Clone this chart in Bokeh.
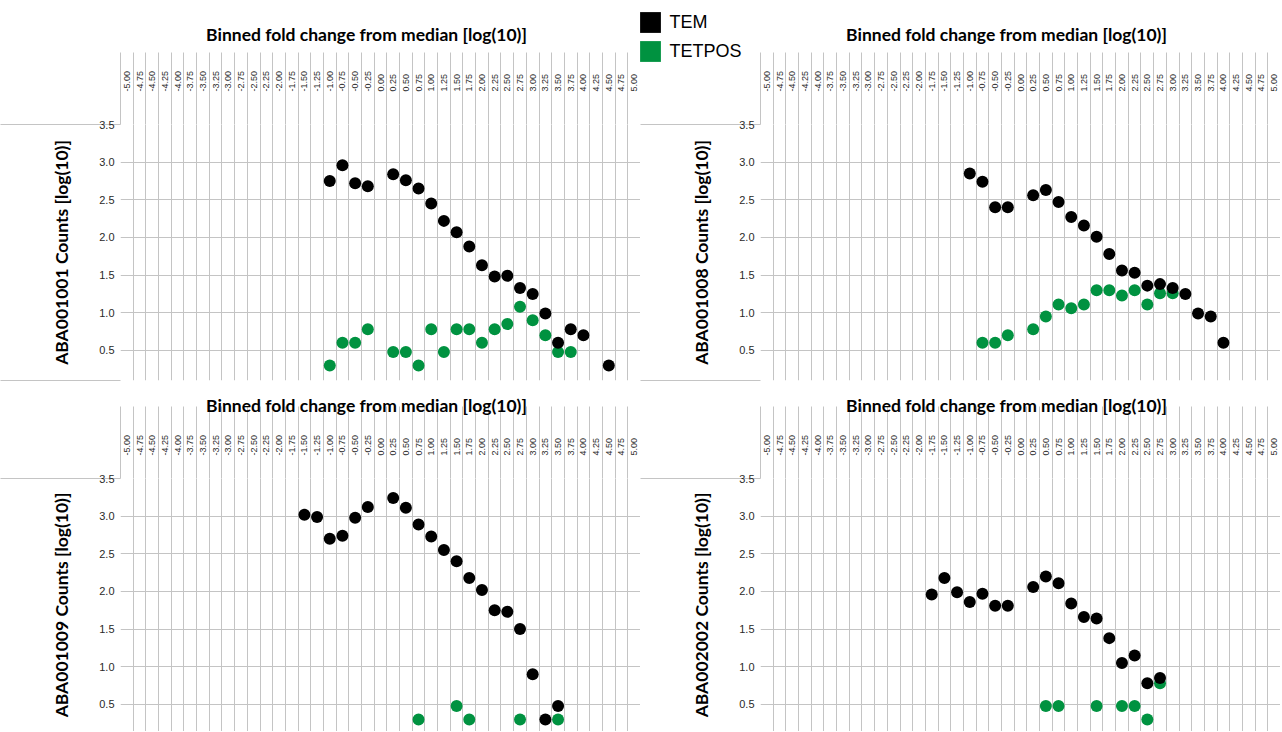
from bokeh.plotting import figure
from bokeh.layouts import row, column
from bokeh.models import (FixedTicker, Range1d, LinearAxis, Legend, LegendItem,
                          NumeralTickFormatter)
from bokeh.embed import file_html
from bokeh.resources import INLINE

# ------------------------------------------------------------------ data
x_labels = ["-5.00", "-4.75", "-4.50", "-4.25", "-4.00", "-3.75", "-3.50", "-3.25",
            "-3.00", "-2.75", "-2.50", "-2.25", "-2.00", "-1.75", "-1.50", "-1.25",
            "-1.00", "-0.75", "-0.50", "-0.25", "0.00", "0.25", "0.50", "0.75",
            "1.00", "1.25", "1.50", "1.75", "2.00", "2.25", "2.50", "2.75",
            "3.00", "3.25", "3.50", "3.75", "4.00", "4.25", "4.50", "4.75", "5.00"]
y_labels = ["0.5", "1.0", "1.5", "2.0", "2.5", "3.0", "3.5"]
series_names = ["TEM", "TETPOS"]
x_title = "Binned fold change from median [log(10)]"
y_title_suffix = " Counts [log(10)]"

# ABA001001
a1_tem_bins = [-1.00, -0.75, -0.50, -0.25, 0.25, 0.50, 0.75, 1.00, 1.25, 1.50, 1.75,
               2.00, 2.25, 2.50, 2.75, 3.00, 3.25, 3.50, 3.75, 4.00, 4.50]
a1_tem_vals = [2.75, 2.96, 2.72, 2.68, 2.84, 2.76, 2.65, 2.45, 2.22, 2.07, 1.88,
               1.63, 1.48, 1.49, 1.33, 1.25, 0.99, 0.60, 0.78, 0.70, 0.30]
a1_tet_bins = [-1.00, -0.75, -0.50, -0.25, 0.25, 0.50, 0.75, 1.00, 1.25, 1.50, 1.75,
               2.00, 2.25, 2.50, 2.75, 3.00, 3.25, 3.50, 3.75]
a1_tet_vals = [0.30, 0.60, 0.60, 0.78, 0.48, 0.48, 0.30, 0.78, 0.48, 0.78, 0.78,
               0.60, 0.78, 0.85, 1.08, 0.90, 0.70, 0.48, 0.48]

# ABA001008
a2_tem_bins = [-1.00, -0.75, -0.50, -0.25, 0.25, 0.50, 0.75, 1.00, 1.25, 1.50, 1.75,
               2.00, 2.25, 2.50, 2.75, 3.00, 3.25, 3.50, 3.75, 4.00]
a2_tem_vals = [2.85, 2.74, 2.40, 2.40, 2.56, 2.63, 2.47, 2.27, 2.16, 2.01, 1.78,
               1.56, 1.53, 1.36, 1.38, 1.33, 1.25, 0.99, 0.95, 0.60]
a2_tet_bins = [-0.75, -0.50, -0.25, 0.25, 0.50, 0.75, 1.00, 1.25, 1.50, 1.75,
               2.00, 2.25, 2.50, 2.75, 3.00]
a2_tet_vals = [0.60, 0.60, 0.70, 0.78, 0.95, 1.11, 1.06, 1.11, 1.30, 1.30,
               1.23, 1.30, 1.11, 1.26, 1.26]

# ABA001009
a3_tem_bins = [-1.50, -1.25, -1.00, -0.75, -0.50, -0.25, 0.25, 0.50, 0.75, 1.00,
               1.25, 1.50, 1.75, 2.00, 2.25, 2.50, 2.75, 3.00, 3.25, 3.50]
a3_tem_vals = [3.02, 2.99, 2.70, 2.74, 2.98, 3.12, 3.24, 3.11, 2.89, 2.73,
               2.55, 2.40, 2.18, 2.02, 1.75, 1.73, 1.50, 0.90, 0.30, 0.48]
a3_tet_bins = [0.75, 1.50, 1.75, 2.75, 3.50]
a3_tet_vals = [0.30, 0.48, 0.30, 0.30, 0.30]

# ABA002002
a4_tem_bins = [-1.75, -1.50, -1.25, -1.00, -0.75, -0.50, -0.25, 0.25, 0.50, 0.75,
               1.00, 1.25, 1.50, 1.75, 2.00, 2.25, 2.50, 2.75]
a4_tem_vals = [1.96, 2.18, 1.99, 1.86, 1.97, 1.81, 1.81, 2.06, 2.20, 2.11,
               1.84, 1.66, 1.64, 1.38, 1.05, 1.15, 0.78, 0.85]
a4_tet_bins = [0.50, 0.75, 1.50, 2.00, 2.25, 2.50, 2.75]
a4_tet_vals = [0.48, 0.48, 0.48, 0.48, 0.48, 0.30, 0.78]

# ------------------------------------------------------------------ styling
GRID = "#c4c4c4"
GREEN = "#009240"
FRAME_W = 520
HEADER = 72            # length of the header cell lines above the frame
x_ticks = [float(s) for s in x_labels]
y_ticks = [float(s) for s in y_labels]
HALF = 0.125
X_LO, X_HI = x_ticks[0] - HALF, x_ticks[-1] + HALF
Y_HI = 3.5
cell_edges = [t - HALF for t in x_ticks] + [X_HI]
# horizontal anchor of the panel title (246 px from the frame's left edge)
TITLE_X = X_LO + 246.0 / FRAME_W * (X_HI - X_LO)


def make_panel(name, tem_x, tem_y, tet_x, tet_y, left, top, bottom, frame_h,
               y_lo, label_gap, title_gap, seps, hlines):
    p = figure(frame_width=FRAME_W, frame_height=frame_h,
               x_range=Range1d(X_LO, X_HI), y_range=Range1d(y_lo, Y_HI),
               x_axis_location="above", output_backend="svg", toolbar_location=None,
               min_border_left=left, min_border_right=0, min_border_top=top,
               min_border_bottom=bottom, outline_line_color=None,
               background_fill_color="white", border_fill_color="white")

    # x axis (top) with bin labels; long minor ticks draw the header cell lines
    xa = p.xaxis[0]
    xa.ticker = FixedTicker(ticks=x_ticks, minor_ticks=cell_edges)
    xa.formatter = NumeralTickFormatter(format="0.00")
    xa.major_label_overrides = dict(zip(x_ticks, x_labels))
    xa.major_label_orientation = "vertical"
    xa.major_label_standoff = label_gap - HEADER
    xa.major_label_text_font = "Liberation Sans"
    xa.major_label_text_font_size = "9px"
    xa.major_label_text_color = "#2a2a2a"
    xa.major_tick_out = 0
    xa.major_tick_in = 0
    xa.minor_tick_in = 0
    xa.minor_tick_out = HEADER
    xa.minor_tick_line_color = GRID
    xa.axis_line_color = None

    # panel title (outer axis carrying one label)
    ta = LinearAxis(ticker=FixedTicker(ticks=[TITLE_X]),
                    major_label_overrides={TITLE_X: x_title},
                    axis_line_color=None, major_tick_out=0, major_tick_in=0,
                    minor_tick_out=0, minor_tick_in=0,
                    major_label_standoff=title_gap,
                    major_label_text_font="Lato", major_label_text_font_style="bold",
                    major_label_text_font_size="17.5px", major_label_text_color="black")
    p.add_layout(ta, "above")

    # y axis; long minor ticks draw the row separators running to the left edge
    ya = p.yaxis[0]
    ya.ticker = FixedTicker(ticks=y_ticks, minor_ticks=seps)
    ya.formatter = NumeralTickFormatter(format="0.0")
    ya.major_label_overrides = dict(zip(y_ticks, y_labels))
    ya.major_tick_out = 0
    ya.major_tick_in = 0
    ya.minor_tick_in = 0
    ya.minor_tick_out = left
    ya.minor_tick_line_color = GRID
    ya.axis_line_color = None
    ya.major_label_standoff = 6 - left
    ya.major_label_text_font = "Liberation Sans"
    ya.major_label_text_font_size = "11px"
    ya.major_label_text_color = "#2a2a2a"
    ya.axis_label = name + y_title_suffix
    ya.axis_label_standoff = 24
    ya.axis_label_text_font = "Lato"
    ya.axis_label_text_font_style = "bold"
    ya.axis_label_text_font_size = "17.5px"
    ya.axis_label_text_color = "black"

    p.xgrid.ticker = FixedTicker(ticks=cell_edges)
    p.ygrid.ticker = FixedTicker(ticks=hlines)
    p.xgrid.grid_line_color = GRID
    p.ygrid.grid_line_color = GRID

    p.scatter(tet_x, tet_y, size=12, fill_color=GREEN, line_color=None)
    p.scatter(tem_x, tem_y, size=12, fill_color="black", line_color=None)
    return p


TOP_YLO = 0.1
BOT_YLO = 0.14

p1 = make_panel("ABA001001", a1_tem_bins, a1_tem_vals, a1_tet_bins, a1_tet_vals,
                left=120, top=124, bottom=10, frame_h=256, y_lo=TOP_YLO,
                label_gap=33, title_gap=23,
                seps=[Y_HI, TOP_YLO], hlines=[TOP_YLO] + y_ticks)
p2 = make_panel("ABA001008", a2_tem_bins, a2_tem_vals, a2_tet_bins, a2_tet_vals,
                left=120, top=124, bottom=10, frame_h=256, y_lo=TOP_YLO,
                label_gap=33, title_gap=23,
                seps=[Y_HI, TOP_YLO], hlines=[TOP_YLO] + y_ticks)
p3 = make_panel("ABA001009", a3_tem_bins, a3_tem_vals, a3_tet_bins, a3_tet_vals,
                left=120, top=88, bottom=0, frame_h=253, y_lo=BOT_YLO,
                label_gap=23, title_gap=16,
                seps=[Y_HI], hlines=y_ticks)
p4 = make_panel("ABA002002", a4_tem_bins, a4_tem_vals, a4_tet_bins, a4_tet_vals,
                left=120, top=88, bottom=0, frame_h=253, y_lo=BOT_YLO,
                label_gap=23, title_gap=16,
                seps=[Y_HI], hlines=y_ticks)

# legend: a small transparent figure laid over the gap between the top panels.
# Its (hidden) square renderers carry the series data; only their legend swatches show.
leg = figure(width=110, height=56, min_border=0, toolbar_location=None,
             output_backend="svg", x_range=Range1d(X_LO, X_HI), y_range=Range1d(TOP_YLO, Y_HI),
             outline_line_color=None, background_fill_alpha=0, border_fill_alpha=0)
leg.axis.visible = False
leg.grid.visible = False
leg_tem = leg.rect(x=a1_tem_bins, y=a1_tem_vals, width=0.2, height=0.2,
                   fill_color="black", line_color=None, visible=False)
leg_tet = leg.rect(x=a1_tet_bins, y=a1_tet_vals, width=0.2, height=0.2,
                   fill_color=GREEN, line_color=None, visible=False)
legend = Legend(items=[LegendItem(label=series_names[0], renderers=[leg_tem]),
                       LegendItem(label=series_names[1], renderers=[leg_tet])],
                location=(0.4, 0.6), glyph_width=26, glyph_height=26,
                label_height=26, spacing=3, padding=0, margin=0, label_standoff=6,
                label_text_font="Liberation Sans", label_text_font_size="18px",
                label_text_color="black", border_line_color=None,
                background_fill_alpha=0, inactive_fill_alpha=0)
leg.add_layout(legend)
leg.margin = (9 - 731, 0, 0, 637)

layout = column(row(p1, p2), row(p3, p4), leg)
open("out.html", "w").write(file_html(layout, INLINE, title="Binned fold change"))
